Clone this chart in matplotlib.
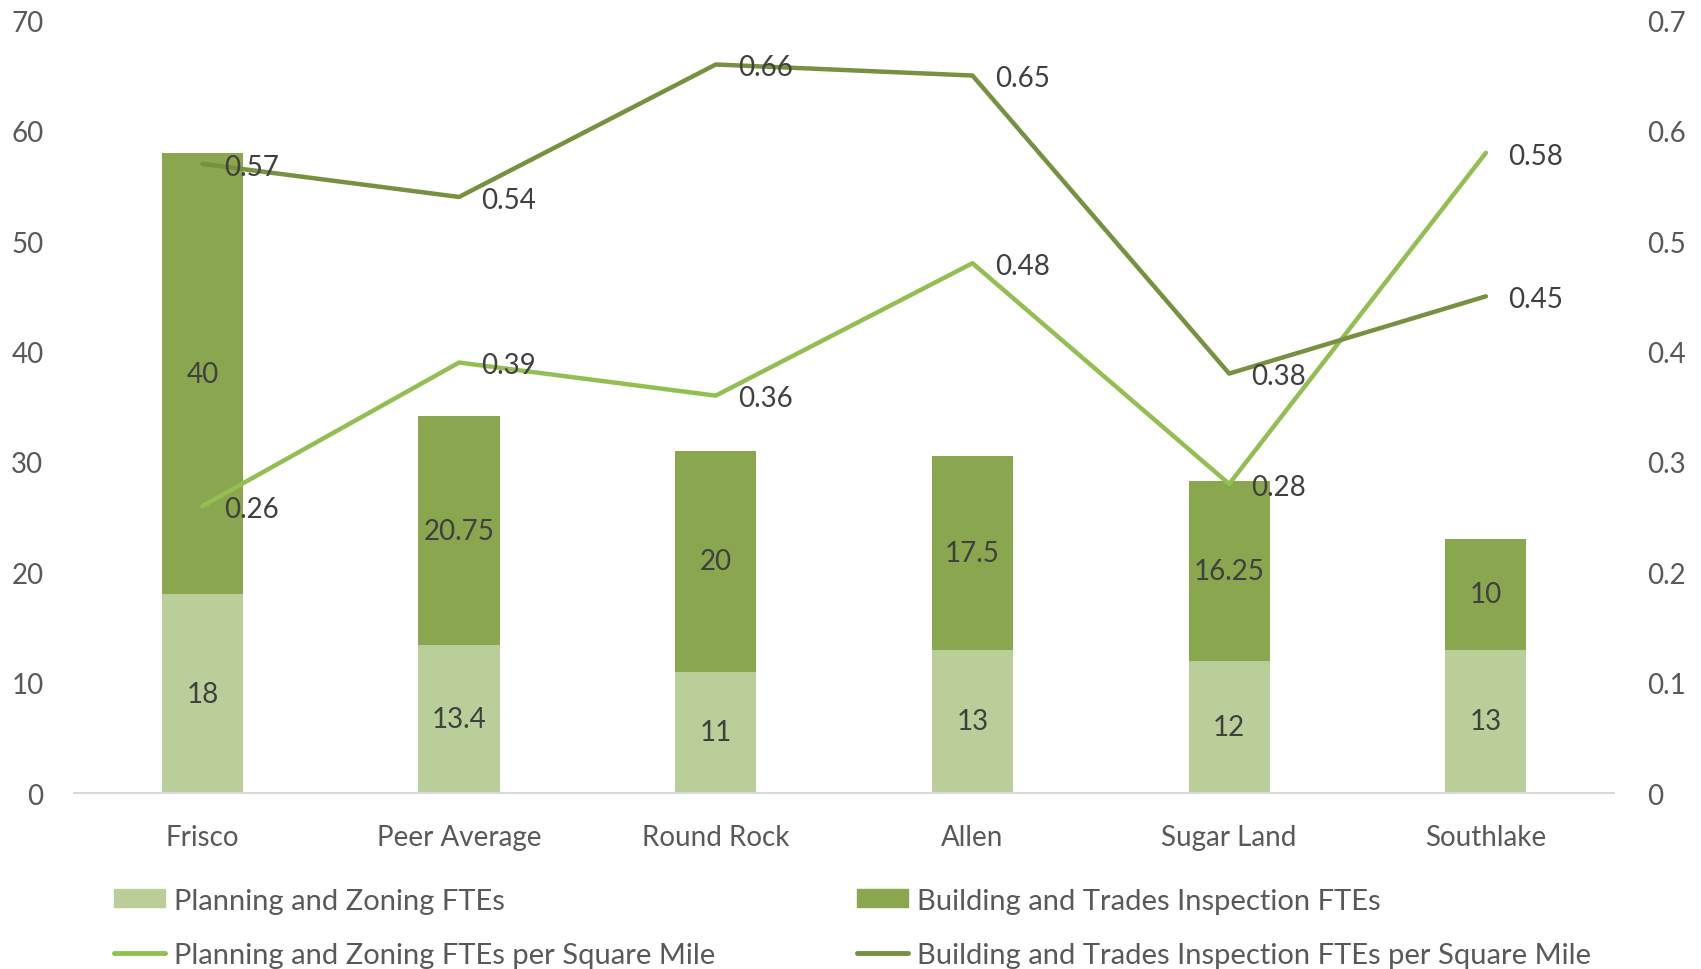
import matplotlib
matplotlib.use("Agg")
import matplotlib.pyplot as plt
import numpy as np
from matplotlib.patches import Patch
from matplotlib.lines import Line2D

plt.rcParams['font.family'] = ['Lato', 'DejaVu Sans']

cities = ["Frisco", "Peer Average", "Round Rock", "Allen", "Sugar Land", "Southlake"]
planning_ftes = [18, 13.4, 11, 13, 12, 13]
building_ftes = [40, 20.75, 20, 17.5, 16.25, 10]
planning_per_sqmi = [0.26, 0.39, 0.36, 0.48, 0.28, 0.58]
building_per_sqmi = [0.57, 0.54, 0.66, 0.65, 0.38, 0.45]

c_pz_bar = "#B9CE98"
c_bt_bar = "#8AA64E"
c_pz_line = "#93BE52"
c_bt_line = "#76913F"
tick_col = "#595959"
lab_col = "#404040"

fig = plt.figure(figsize=(17.01, 9.70), dpi=100)
ax = fig.add_axes([0.0435, 0.1814, 0.9055, 0.7966])
x = np.arange(len(cities))
w = 0.316

b1 = ax.bar(x, planning_ftes, w, color=c_pz_bar)
b2 = ax.bar(x, building_ftes, w, bottom=planning_ftes, color=c_bt_bar)

for i in range(len(x)):
    ax.text(x[i], planning_ftes[i] / 2, f"{planning_ftes[i]:g}", ha="center", va="center",
            fontsize=20, color=lab_col)
    ax.text(x[i], planning_ftes[i] + building_ftes[i] / 2, f"{building_ftes[i]:g}",
            ha="center", va="center", fontsize=20, color=lab_col)

ax.set_xlim(-0.5, 5.5)
ax.set_ylim(0, 70)
ax.set_yticks(range(0, 71, 10))
ax.set_xticks(x)
ax.set_xticklabels(cities)
for s in ["top", "right", "left"]:
    ax.spines[s].set_visible(False)
ax.spines["bottom"].set_color("#D9D9D9")
ax.spines["bottom"].set_linewidth(1.5)
ax.tick_params(axis="y", length=0, pad=22, labelsize=20, labelcolor=tick_col)
ax.tick_params(axis="x", length=0, pad=22, labelsize=20, labelcolor=tick_col)

ax2 = ax.twinx()
ax2.plot(x, planning_per_sqmi, color=c_pz_line, lw=3.2, solid_capstyle="round")
ax2.plot(x, building_per_sqmi, color=c_bt_line, lw=3.2, solid_capstyle="round")
ax2.set_ylim(0, 0.7)
ax2.set_yticks(np.arange(0, 0.71, 0.1))
ax2.set_yticklabels(["0", "0.1", "0.2", "0.3", "0.4", "0.5", "0.6", "0.7"])
for s in ax2.spines.values():
    s.set_visible(False)
ax2.tick_params(axis="y", length=0, pad=24, labelsize=20, labelcolor=tick_col)

for vals in (planning_per_sqmi, building_per_sqmi):
    for i, v in enumerate(vals):
        ax2.annotate(f"{v:g}", (x[i], v), xytext=(16, -2), textcoords="offset points",
                     ha="left", va="center", fontsize=20, color=lab_col)

h1 = [Patch(color=c_pz_bar), Line2D([], [], color=c_pz_line, lw=3.5, solid_capstyle="round")]
l1 = ["Planning and Zoning FTEs", "Planning and Zoning FTEs per Square Mile"]
h2 = [Patch(color=c_bt_bar), Line2D([], [], color=c_bt_line, lw=3.5, solid_capstyle="round")]
l2 = ["Building and Trades Inspection FTEs", "Building and Trades Inspection FTEs per Square Mile"]

leg_kw = dict(frameon=False, fontsize=21, labelcolor=tick_col, handlelength=1.75,
              handleheight=0.6, handletextpad=0.3, labelspacing=0.98, borderpad=0,
              borderaxespad=0)
fig.legend(h1, l1, loc="upper left", bbox_to_anchor=(0.067, 0.084), **leg_kw)
fig.legend(h2, l2, loc="upper left", bbox_to_anchor=(0.504, 0.084), **leg_kw)

fig.savefig("out.png", dpi=100)
